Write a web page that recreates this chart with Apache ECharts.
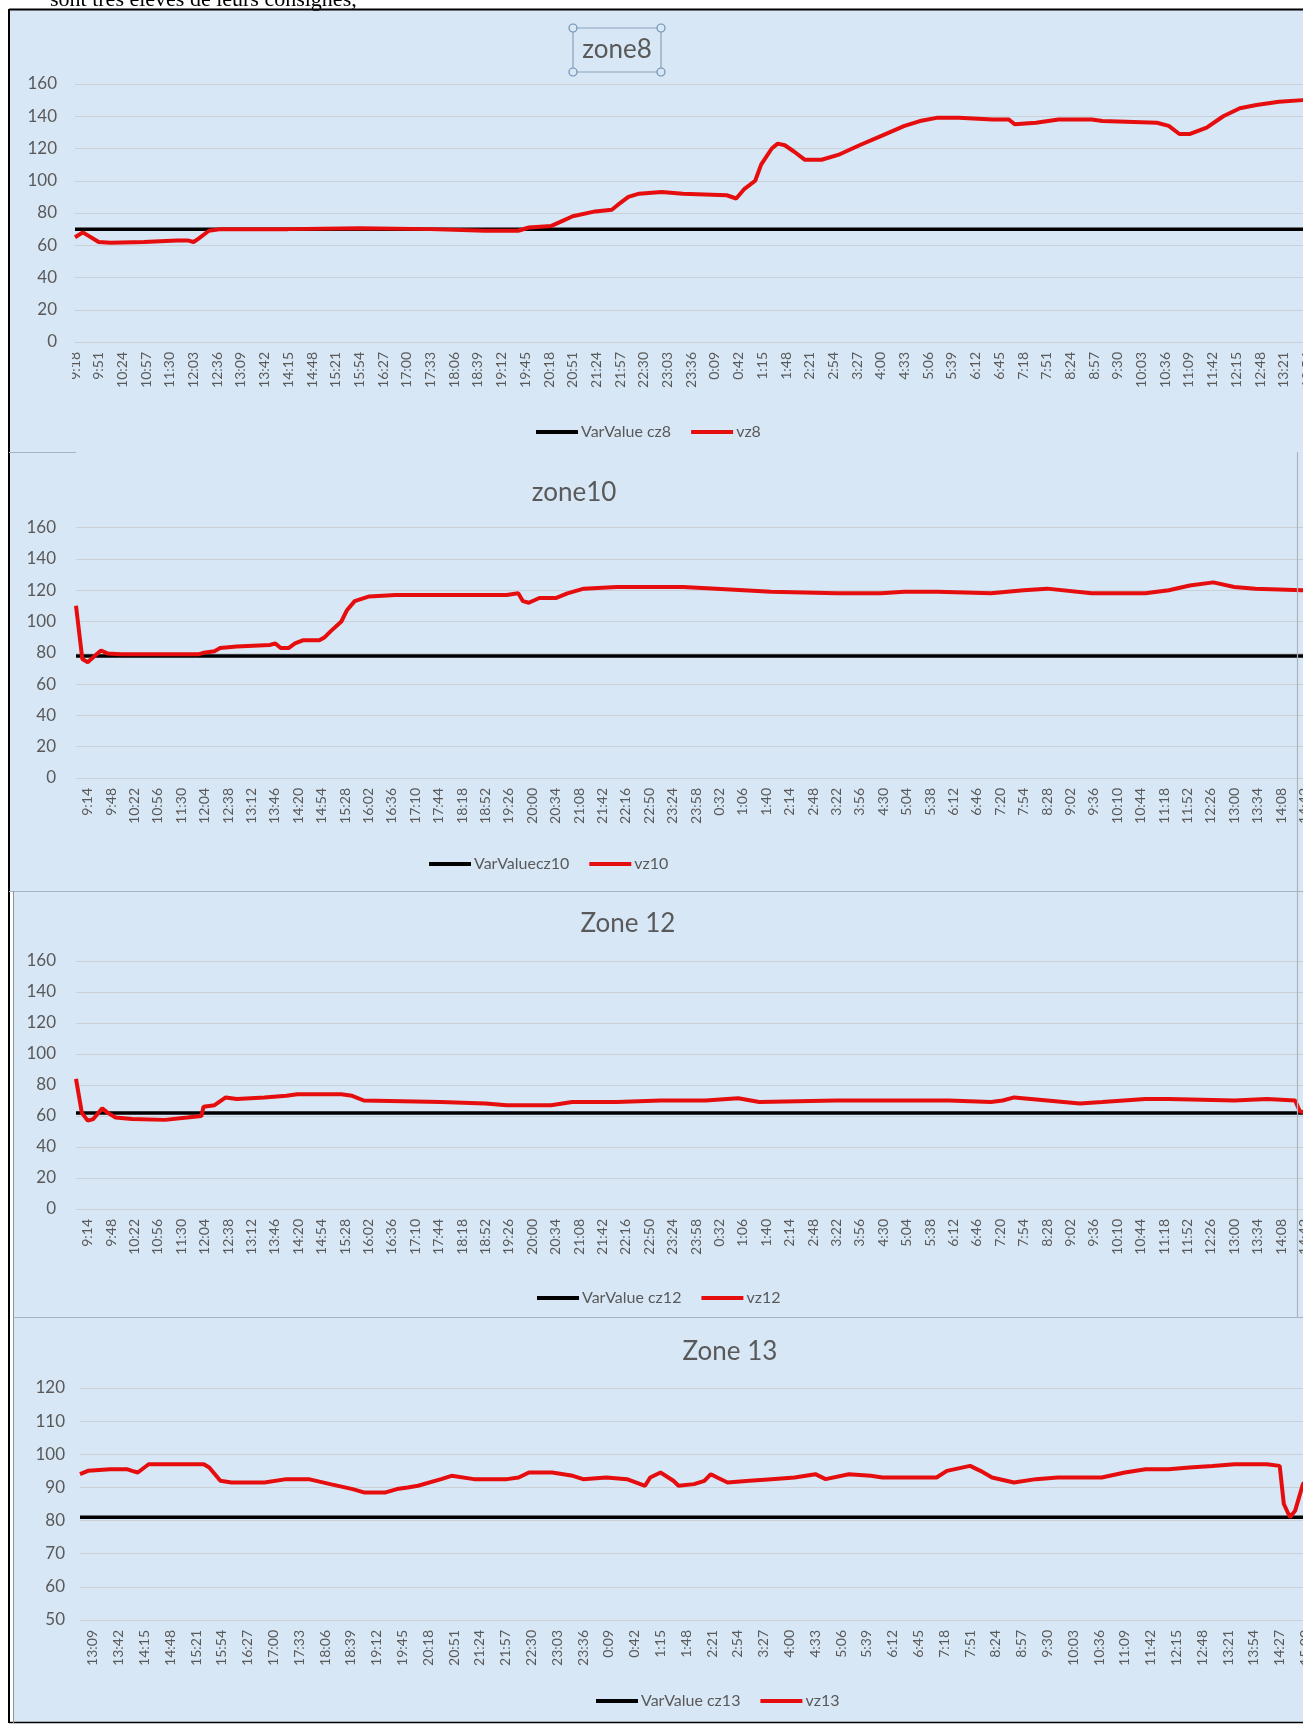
<!DOCTYPE html>
<html>
<head>
<meta charset="utf-8">
<script src="https://cdn.jsdelivr.net/npm/echarts@6/dist/echarts.min.js"></script>
<style>
  html, body { margin: 0; padding: 0; background: #ffffff; }
  #c { width: 1303px; height: 1729px; }
</style>
</head>
<body>
<div id="c"></div>
<script>
// Time labels along each category axis (one every 33 / 34 / 33 samples)
const ticks8 = ['9:18','9:51','10:24','10:57','11:30','12:03','12:36','13:09','13:42','14:15','14:48','15:21','15:54','16:27','17:00','17:33','18:06','18:39','19:12','19:45','20:18','20:51','21:24','21:57','22:30','23:03','23:36','0:09','0:42','1:15','1:48','2:21','2:54','3:27','4:00','4:33','5:06','5:39','6:12','6:45','7:18','7:51','8:24','8:57','9:30','10:03','10:36','11:09','11:42','12:15','12:48','13:21','13:54'];
const ticks10 = ['9:14','9:48','10:22','10:56','11:30','12:04','12:38','13:12','13:46','14:20','14:54','15:28','16:02','16:36','17:10','17:44','18:18','18:52','19:26','20:00','20:34','21:08','21:42','22:16','22:50','23:24','23:58','0:32','1:06','1:40','2:14','2:48','3:22','3:56','4:30','5:04','5:38','6:12','6:46','7:20','7:54','8:28','9:02','9:36','10:10','10:44','11:18','11:52','12:26','13:00','13:34','14:08','14:42'];
const ticks12 = ticks10;
const ticks13 = ['13:09','13:42','14:15','14:48','15:21','15:54','16:27','17:00','17:33','18:06','18:39','19:12','19:45','20:18','20:51','21:24','21:57','22:30','23:03','23:36','0:09','0:42','1:15','1:48','2:21','2:54','3:27','4:00','4:33','5:06','5:39','6:12','6:45','7:18','7:51','8:24','8:57','9:30','10:03','10:36','11:09','11:42','12:15','12:48','13:21','13:54','14:27','15:00'];
// label sitting before the first full tick (mostly hidden by the panel edge)
const lead10 = '8:40';

// [position on the time axis (in label steps), temperature]
const cz8 = [[0, 70], [53, 70]];
const vz8 = [[0,65],[0.33,68],[1.0,62],[1.5,61.5],[2.9,62],[4.3,63],[4.75,63],[5.0,62],[5.2,64],[5.65,69],[6.15,70],[9,70],[12,70.5],[15,70],[17.3,69],[18.7,69],[19.15,71],[20.1,72],[20.55,75],[21.0,78],[21.95,81],[22.65,82],[22.9,85],[23.35,90],[23.8,92],[24.75,93],[25.65,92],[27.5,91],[27.9,89],[28.25,95],[28.7,100],[28.95,110],[29.4,120],[29.65,123],[29.95,122],[30.35,118],[30.8,113],[31.5,113],[32.2,116],[33.1,122],[34.05,128],[35.0,134],[35.65,137],[36.35,139],[37.3,139],[38.7,138],[39.4,138],[39.65,135],[40.55,136],[41.5,138],[42.9,138],[43.35,137],[45.65,136],[46.15,134],[46.6,129],[47.05,129],[47.75,133],[48.45,140],[49.15,145],[49.85,147],[50.8,149],[51.8,150],[53,150.5]];

const cz10 = [[-0.5, 78], [53, 78]];
const vz10 = [[-0.5,110],[-0.23,76],[0.0,74],[0.38,79],[0.57,81.5],[0.86,79.5],[1.42,79],[4.72,79],[4.95,80],[5.42,81],[5.66,83],[6.37,84],[7.78,85],[8.02,86],[8.25,83],[8.58,83],[8.86,86],[9.19,88],[9.9,88],[10.13,90],[10.4,94],[10.84,100],[11.07,107],[11.41,113],[12.03,116],[13.15,117],[17.9,117],[18.4,118],[18.6,113],[18.85,112],[19.3,115],[20.0,115],[20.5,118],[21.2,121],[22.6,122],[25.45,122],[26.86,121],[29.2,119],[32.0,118],[33.9,118],[34.9,119],[36.3,119],[38.6,118],[40.0,120],[41.0,121],[42.9,118],[45.2,118],[46.2,120],[47.1,123],[48.1,125],[49.0,122],[49.9,121],[51.9,120],[53,120]];

const cz12 = [[-0.5, 62], [53, 62]];
const vz12 = [[-0.5,84],[-0.25,62],[0.0,57],[0.24,58],[0.62,65],[0.86,62],[1.19,59],[1.89,58],[3.3,57.5],[4.25,59],[4.86,60],[4.95,66],[5.42,67],[5.9,72],[6.37,71],[7.55,72],[8.49,73],[8.96,74],[10.84,74],[11.3,73],[11.8,70],[15.1,69],[17.0,68],[17.9,67],[19.8,67],[20.7,69],[22.6,69],[24.5,70],[26.4,70],[27.8,71.5],[28.7,69],[32.0,70],[36.8,70],[38.6,69],[39.1,70],[39.6,72],[41.0,70],[42.4,68],[43.35,69],[45.2,71],[46.2,71],[49.0,70],[50.4,71],[51.6,70],[51.8,63],[53,60]];

const cz13 = [[-0.5, 81], [47.5, 81]];
const vz13 = [[-0.5,94],[-0.19,95],[0.67,95.5],[1.31,95.5],[1.52,95],[1.74,94.5],[2.16,97],[4.3,97],[4.51,96],[4.94,92],[5.37,91.5],[6.65,91.5],[7.5,92.5],[8.36,92.5],[9.2,91],[10.07,89.5],[10.5,88.5],[11.35,88.5],[11.78,89.5],[12.2,90],[12.6,90.5],[13.5,92.5],[13.9,93.5],[14.77,92.5],[16.05,92.5],[16.5,93],[16.9,94.5],[17.8,94.5],[18.6,93.5],[19.0,92.5],[19.9,93],[20.7,92.5],[21.4,90.5],[21.6,93],[22.0,94.5],[22.5,92],[22.7,90.5],[23.3,91],[23.7,92],[23.95,94],[24.2,93],[24.6,91.5],[25.45,92],[26.3,92.5],[27.2,93],[28.0,94],[28.4,92.5],[29.3,94],[30.15,93.5],[30.6,93],[32.7,93],[33.1,95],[34.0,96.5],[34.4,95],[34.85,93],[35.7,91.5],[36.55,92.5],[37.4,93],[39.1,93],[40.0,94.5],[40.8,95.5],[41.7,95.5],[42.5,96],[43.4,96.5],[44.25,97],[45.5,97],[46.0,96.5],[46.16,85],[46.4,81],[46.6,83],[46.9,91],[47.5,95]];

const BG = '#d8e7f5';
const FONT = 'Lato, "Open Sans", sans-serif';
const GREY_TXT = '#595959';
const RED = '#e50d0d';

function xFormatter(labels, lead) {
  return function (v) {
    const r = Math.round(v);
    if (Math.abs(v - r) < 1e-6) return labels[r] !== undefined ? labels[r] : '';
    if (lead && Math.abs(v - Math.floor(v) - 0.5) < 1e-6 && v < 0) return lead;
    return '';
  };
}

function panel(i, g, yMin, yMax, yStep, labels, lead, xMin, xStep, xMax, yLabelMargin) {
  return {
    grid: Object.assign({ containLabel: false, outerBoundsMode: 'none' }, g),
    xAxis: {
      type: 'value', gridIndex: i, min: xMin, max: xMax, interval: xStep,
      axisLine: { show: false }, axisTick: { show: false }, splitLine: { show: false },
      axisLabel: {
        rotate: 90, margin: 10, fontSize: 14, fontFamily: FONT, color: GREY_TXT,
        showMaxLabel: false, formatter: xFormatter(labels, lead)
      }
    },
    yAxis: {
      type: 'value', gridIndex: i, min: yMin, max: yMax, interval: yStep,
      axisLine: { show: false }, axisTick: { show: false },
      splitLine: { show: true, lineStyle: { color: '#c9d0d8', width: 1 } },
      axisLabel: { margin: yLabelMargin, fontSize: 17, fontFamily: FONT, color: GREY_TXT }
    }
  };
}

const panels = [
  panel(0, { left: 75, top: 84, width: 53 * 23.7, height: 258 }, 0, 160, 20, ticks8, null, 0, 1, 53, 18),
  panel(1, { left: 76, top: 527.6, width: 53.5 * 23.4, height: 250.4 }, 0, 160, 20, ticks10, lead10, -0.5, 0.5, 53, 20),
  panel(2, { left: 76, top: 961, width: 53.5 * 23.4, height: 248 }, 0, 160, 20, ticks12, lead10, -0.5, 0.5, 53, 20),
  panel(3, { left: 80, top: 1388, width: 48 * 25.8, height: 232 }, 50, 120, 10, ticks13, null, -0.5, 0.5, 47.5, 15)
];

function line(name, data, idx, color, width) {
  return {
    type: 'line', name: name, data: data, xAxisIndex: idx, yAxisIndex: idx,
    showSymbol: false, symbol: 'none', color: color,
    lineStyle: { color: color, width: width }, silent: true, animation: false
  };
}

const series = [
  line('VarValue cz8', cz8, 0, '#000000', 3.5), line('vz8', vz8, 0, RED, 4),
  line('VarValuecz10', cz10, 1, '#000000', 3.5), line('vz10', vz10, 1, RED, 4),
  line('VarValue cz12', cz12, 2, '#000000', 3.5), line('vz12', vz12, 2, RED, 4),
  line('VarValue cz13', cz13, 3, '#000000', 3.5), line('vz13', vz13, 3, RED, 4)
];

function legend(left, top, names) {
  return {
    left: left, top: top, data: names, icon: 'rect', itemWidth: 42, itemHeight: 4, itemGap: 20,
    selectedMode: false, textStyle: { fontSize: 16, fontFamily: FONT, color: GREY_TXT, padding: [0, 0, 0, -2] }
  };
}

function title(x, y, text) {
  return { type: 'text', x: x, y: y, z: 50, style: { text: text, fontSize: 26, fontFamily: FONT, fill: GREY_TXT, align: 'center', verticalAlign: 'middle' } };
}
function hline(x1, x2, y, color, w) {
  return { type: 'line', z: 60, shape: { x1: x1, y1: y, x2: x2, y2: y }, style: { stroke: color, lineWidth: w } };
}
function vline(x, y1, y2, color, w) {
  return { type: 'line', z: 60, shape: { x1: x, y1: y1, x2: x, y2: y2 }, style: { stroke: color, lineWidth: w } };
}
function handle(x, y) {
  return { type: 'circle', z: 61, shape: { cx: x, cy: y, r: 4 }, style: { fill: BG, stroke: '#6f8fb3', lineWidth: 1.2 } };
}

const graphics = [
  // white page margins around the framed figure
  { type: 'rect', z: 40, shape: { x: 0, y: 0, width: 1303, height: 9 }, style: { fill: '#ffffff' } },
  { type: 'rect', z: 40, shape: { x: 0, y: 0, width: 9, height: 1729 }, style: { fill: '#ffffff' } },
  { type: 'rect', z: 40, shape: { x: 0, y: 1723, width: 1303, height: 6 }, style: { fill: '#ffffff' } },
  { type: 'rect', z: 40, shape: { x: 9, y: 891, width: 4, height: 832 }, style: { fill: '#ffffff' } },
  // running text above the figure
  { type: 'text', x: 50, y: 0, z: 45, style: { text: 'sont très élevés de leurs consignes,', fontSize: 22, fontFamily: '"Liberation Serif", serif', fill: '#000000', verticalAlign: 'middle' } },
  // figure frame
  vline(9, 9, 1723, '#000000', 2),
  hline(9, 1303, 9.5, '#000000', 2),
  hline(9, 1303, 1722.5, '#000000', 1.5),
  // panel edges
  hline(9, 76, 452.5, '#a9b4bf', 1.2),
  hline(9, 1303, 891.5, '#a9b4bf', 1.2),
  vline(1297.5, 452, 891, '#a9b4bf', 1.2),
  vline(13.5, 891, 1723, '#8c96a0', 1),
  hline(13, 1303, 1317.5, '#a9b4bf', 1.2),
  vline(1297.5, 891, 1317, '#a9b4bf', 1.2),
  // lead tick labels clipped by the panel edge
  { type: 'rect', z: 55, shape: { x: 55, y: 348, width: 17, height: 70 }, style: { fill: BG } },
  { type: 'rect', z: 55, shape: { x: 55, y: 785, width: 21, height: 70 }, style: { fill: BG } },
  { type: 'rect', z: 55, shape: { x: 55, y: 1216, width: 21, height: 70 }, style: { fill: BG } },
  // titles
  title(617, 50, 'zone8'),
  title(574, 493, 'zone10'),
  title(628, 924, 'Zone 12'),
  title(730, 1352, 'Zone 13'),
  // selected text box around the first title
  { type: 'rect', z: 60, shape: { x: 573, y: 28, width: 88, height: 44 }, style: { fill: 'none', stroke: '#8aa2bb', lineWidth: 1.2 } },
  handle(573, 28), handle(661, 28), handle(573, 72), handle(661, 72)
];

const chart = echarts.init(document.getElementById('c'), null, { renderer: 'canvas' });
chart.setOption({
  backgroundColor: BG,
  animation: false,
  grid: panels.map(p => p.grid),
  xAxis: panels.map(p => p.xAxis),
  yAxis: panels.map(p => p.yAxis),
  legend: [
    legend(531, 419, ['VarValue cz8', 'vz8']),
    legend(424, 851, ['VarValuecz10', 'vz10']),
    legend(532, 1285, ['VarValue cz12', 'vz12']),
    legend(591, 1688, ['VarValue cz13', 'vz13'])
  ],
  series: series,
  graphic: graphics
});
</script>
</body>
</html>
